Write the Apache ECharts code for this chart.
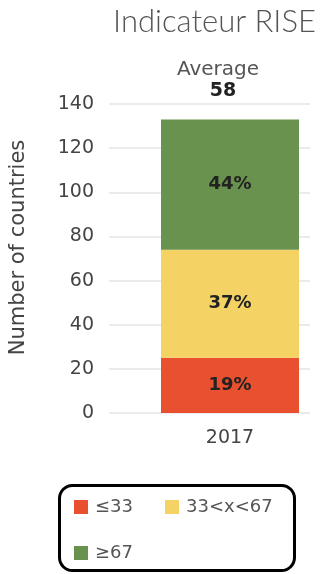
<!DOCTYPE html>
<html>
<head>
<meta charset="utf-8">
<style>
  html, body { margin: 0; padding: 0; background: #ffffff; }
  #chart { width: 326px; height: 574px; }
</style>
<script src="https://cdn.jsdelivr.net/npm/echarts@6/dist/echarts.min.js"></script>
</head>
<body>
<div id="chart"></div>
<script>
// Country counts per RISE score band, 2017
const years = ['2017'];
const bandNames = ['≤33', '33<x<67', '≥67'];
const lowCounts = [25];
const midCounts = [49];
const highCounts = [59];
const averageScore = 58;
const yTicks = [0, 20, 40, 60, 80, 100, 120, 140];

const bandColors = ['#E8502F', '#F4D263', '#6A924F'];
const FONT = '"DejaVu Sans", sans-serif';
const TITLE_FONT = 'Lato, "Noto Sans", sans-serif';
const totals = years.map((_, i) => lowCounts[i] + midCounts[i] + highCounts[i]);

function pctLabel(p) {
  return Math.round(p.value / totals[p.dataIndex] * 100) + '%';
}

function bandSeries(name, data, color) {
  return {
    name: name,
    type: 'bar',
    stack: 'total',
    xAxisIndex: 1,
    yAxisIndex: 1,
    data: data,
    barWidth: 138,
    itemStyle: { color: color },
    label: {
      show: true,
      position: 'inside',
      formatter: pctLabel,
      color: '#222',
      fontFamily: FONT,
      fontWeight: 'bold',
      fontSize: 18
    }
  };
}

const legendBase = {
  icon: 'rect',
  itemWidth: 14,
  itemHeight: 14,
  itemGap: 0,
  padding: 0,
  selectedMode: false,
  textStyle: { color: '#555', fontFamily: FONT, fontSize: 18, padding: [0, 0, 0, 2] }
};

const yRange = {
  type: 'value',
  min: yTicks[0],
  max: yTicks[yTicks.length - 1],
  interval: yTicks[1] - yTicks[0]
};

const chart = echarts.init(document.getElementById('chart'), null, { renderer: 'canvas' });
chart.setOption({
  animation: false,
  grid: [
    // value axis and gridlines
    { left: 98, right: 16, top: 104, bottom: 161 },
    // plotting band for the stacked bar
    { left: 150, right: 16, top: 104, bottom: 161 }
  ],
  xAxis: [
    { gridIndex: 0, type: 'category', data: years, show: false },
    {
      gridIndex: 1,
      type: 'category',
      data: years,
      axisLine: { show: false },
      axisTick: { show: false },
      axisLabel: { color: '#444', fontFamily: FONT, fontSize: 19, margin: 16 }
    }
  ],
  yAxis: [
    Object.assign({}, yRange, {
      gridIndex: 0,
      name: 'Number of countries',
      nameLocation: 'middle',
      nameGap: 80,
      nameTextStyle: { color: '#444', fontFamily: FONT, fontSize: 21, padding: [0, 0, 0, 22] },
      axisLine: { show: false },
      axisTick: { show: false },
      splitLine: { lineStyle: { color: '#e4e4e4', width: 1.5 } },
      axisLabel: { color: '#444', fontFamily: FONT, fontSize: 19, margin: 15 }
    }),
    Object.assign({}, yRange, { gridIndex: 1, show: false })
  ],
  legend: [
    Object.assign({}, legendBase, { data: [bandNames[0]], left: 74, top: 498 }),
    Object.assign({}, legendBase, { data: [bandNames[1]], left: 165, top: 498 }),
    Object.assign({}, legendBase, { data: [bandNames[2]], left: 74, top: 544 })
  ],
  graphic: [
    {
      type: 'text',
      x: 316,
      y: 22,
      style: { text: 'Indicateur RISE', fill: '#555', font: '300 31px ' + TITLE_FONT, textAlign: 'right', textVerticalAlign: 'middle' }
    },
    {
      type: 'text',
      x: 218,
      y: 70,
      style: { text: 'Average', fill: '#555', font: '20px ' + FONT, textAlign: 'center', textVerticalAlign: 'middle' }
    },
    {
      type: 'text',
      x: 223,
      y: 91,
      style: { text: String(averageScore), fill: '#222', font: 'bold 19px ' + FONT, textAlign: 'center', textVerticalAlign: 'middle' }
    },
    {
      type: 'rect',
      left: 57,
      top: 483,
      shape: { width: 235, height: 85, r: 13 },
      style: { fill: 'none', stroke: '#000', lineWidth: 3 },
      z: 10
    }
  ],
  series: [
    bandSeries(bandNames[0], lowCounts, bandColors[0]),
    bandSeries(bandNames[1], midCounts, bandColors[1]),
    bandSeries(bandNames[2], highCounts, bandColors[2])
  ]
});
</script>
</body>
</html>
